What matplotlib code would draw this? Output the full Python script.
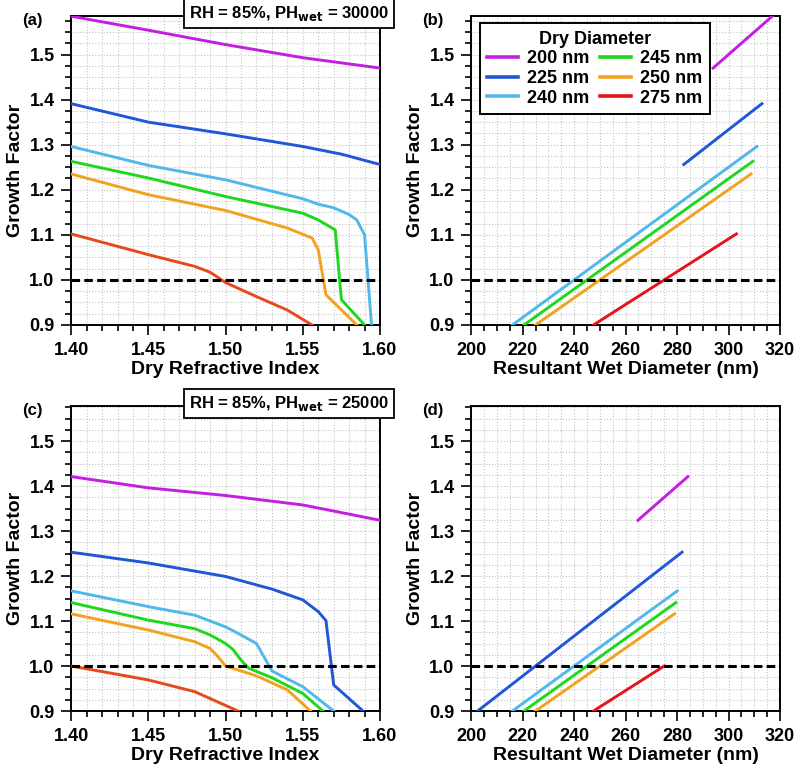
import numpy as np
import matplotlib
matplotlib.use("Agg")
import matplotlib.pyplot as plt
from matplotlib.ticker import MultipleLocator, FormatStrFormatter

plt.rcParams["font.family"] = ["Liberation Sans", "DejaVu Sans"]
plt.rcParams["font.weight"] = "bold"
plt.rcParams["axes.labelweight"] = "bold"

# ─── Data ───
dry_diam = [200, 225, 240, 245, 250, 275]
labels = ["200 nm", "225 nm", "240 nm", "245 nm", "250 nm", "275 nm"]
colors_left = ["#c41ee0", "#1f57d6", "#50b8ea", "#1ed81e", "#f2a21e", "#e64a1c"]
colors_right = ["#c41ee0", "#1f57d6", "#50b8ea", "#1ed81e", "#f2a21e", "#e8121c"]

# PH_wet = 30000: growth factor vs dry refractive index
ri_30k = [
    [1.40, 1.45, 1.50, 1.55, 1.60],
    [1.40, 1.45, 1.50, 1.55, 1.575, 1.60],
    [1.40, 1.45, 1.50, 1.55, 1.56, 1.57, 1.58, 1.585, 1.59, 1.5945],
    [1.40, 1.45, 1.50, 1.55, 1.56, 1.571, 1.575, 1.590],
    [1.40, 1.45, 1.50, 1.54, 1.556, 1.560, 1.565, 1.585],
    [1.40, 1.45, 1.48, 1.49, 1.50, 1.52, 1.54, 1.556],
]
gf_30k = [
    [1.585, 1.554, 1.522, 1.493, 1.470],
    [1.391, 1.350, 1.324, 1.296, 1.279, 1.256],
    [1.296, 1.254, 1.222, 1.180, 1.168, 1.160, 1.145, 1.133, 1.100, 0.900],
    [1.263, 1.226, 1.185, 1.148, 1.133, 1.111, 0.956, 0.900],
    [1.235, 1.189, 1.154, 1.115, 1.093, 1.067, 0.967, 0.900],
    [1.102, 1.056, 1.030, 1.017, 0.994, 0.963, 0.933, 0.900],
]

# PH_wet = 25000
ri_25k = [
    [1.40, 1.45, 1.50, 1.55, 1.60],
    [1.40, 1.45, 1.50, 1.53, 1.55, 1.56, 1.565, 1.570, 1.589],
    [1.40, 1.45, 1.48, 1.50, 1.51, 1.52, 1.53, 1.55, 1.570],
    [1.40, 1.45, 1.48, 1.49, 1.50, 1.505, 1.51, 1.515, 1.53, 1.55, 1.563],
    [1.40, 1.45, 1.48, 1.49, 1.495, 1.50, 1.52, 1.54, 1.555],
    [1.40, 1.45, 1.48, 1.508],
]
gf_25k = [
    [1.421, 1.396, 1.379, 1.358, 1.324],
    [1.253, 1.229, 1.199, 1.171, 1.147, 1.121, 1.101, 0.958, 0.900],
    [1.167, 1.132, 1.113, 1.087, 1.069, 1.050, 0.989, 0.954, 0.900],
    [1.141, 1.102, 1.083, 1.069, 1.050, 1.036, 1.013, 0.995, 0.974, 0.939, 0.900],
    [1.116, 1.080, 1.054, 1.039, 1.021, 1.000, 0.978, 0.947, 0.900],
    [1.000, 0.969, 0.943, 0.900],
]


def style_axes(ax, xmin, xmax, xmaj, xmin_step, ytop, panel):
    ax.set_xlim(xmin, xmax)
    ax.set_ylim(0.9, ytop)
    ax.xaxis.set_major_locator(MultipleLocator(xmaj))
    ax.xaxis.set_minor_locator(MultipleLocator(xmin_step))
    ax.yaxis.set_major_locator(MultipleLocator(0.1))
    ax.yaxis.set_minor_locator(MultipleLocator(0.025))
    ax.grid(which="both", ls=":", color="#c4c4c4", lw=0.8)
    ax.set_axisbelow(True)
    ax.tick_params(which="both", direction="out", width=1.2, labelsize=13, top=False, right=False)
    ax.tick_params(which="major", length=7, pad=5)
    ax.tick_params(which="minor", length=4)
    for lab in ax.get_xticklabels() + ax.get_yticklabels():
        lab.set_fontweight("bold")
    for sp in ax.spines.values():
        sp.set_linewidth(1.4)
    ax.axhline(1.0, color="black", lw=2.2, ls=(0, (2.8, 1.4)), zorder=5)
    ax.set_ylabel("Growth Factor", fontsize=14, labelpad=4)
    ax.text(-0.125, 0.985, panel, transform=ax.transAxes, ha="center", va="center",
            fontsize=12, fontweight="bold")


fig = plt.figure(figsize=(8, 7.73), dpi=100)
ax_a = fig.add_axes([0.089, 0.5796, 0.386, 0.3994])
ax_b = fig.add_axes([0.589, 0.5796, 0.386, 0.3994])
ax_c = fig.add_axes([0.089, 0.0802, 0.386, 0.3946])
ax_d = fig.add_axes([0.589, 0.0802, 0.386, 0.3946])

for ax_l, ax_r, ri, gf, ytop, ph, pa, pb in [
    (ax_a, ax_b, ri_30k, gf_30k, 1.585, "30000", "(a)", "(b)"),
    (ax_c, ax_d, ri_25k, gf_25k, 1.578, "25000", "(c)", "(d)"),
]:
    for i, d in enumerate(dry_diam):
        ax_l.plot(ri[i], gf[i], color=colors_left[i], lw=2.1, zorder=4)
        wet = np.array(gf[i]) * d  # wet diameter = dry diameter x growth factor
        ax_r.plot(wet, gf[i], color=colors_right[i], lw=2.1, label=labels[i], zorder=4)
    style_axes(ax_l, 1.40, 1.60, 0.05, 0.01, ytop, pa)
    ax_l.xaxis.set_major_formatter(FormatStrFormatter("%.2f"))
    ax_l.set_xlabel("Dry Refractive Index", fontsize=14, labelpad=2)
    style_axes(ax_r, 200, 320, 20, 5, ytop, pb)
    ax_r.set_xlabel("Resultant Wet Diameter (nm)", fontsize=14, labelpad=2)
    ax_l.text(1.03, 1.008, "RH = 85%, PH$_{\\mathbf{wet}}$ = " + ph, transform=ax_l.transAxes,
              ha="right", va="center", fontsize=12, fontweight="bold", zorder=10,
              bbox=dict(boxstyle="square,pad=0.3", fc="white", ec="black", lw=1.3))

leg = ax_b.legend(loc="upper left", bbox_to_anchor=(0.029, 0.977), borderaxespad=0,
                  ncol=2, title="Dry Diameter", fontsize=13, title_fontsize=13,
                  frameon=True, fancybox=False, edgecolor="black", framealpha=1,
                  handlelength=1.7, handletextpad=0.5, columnspacing=0.6, labelspacing=0.15,
                  borderpad=0.4)
leg.get_frame().set_linewidth(1.4)
leg.get_title().set_fontweight("bold")
for t in leg.get_texts():
    t.set_fontweight("bold")
for ln in leg.get_lines():
    ln.set_linewidth(2.6)

fig.savefig("out.png", dpi=100)
